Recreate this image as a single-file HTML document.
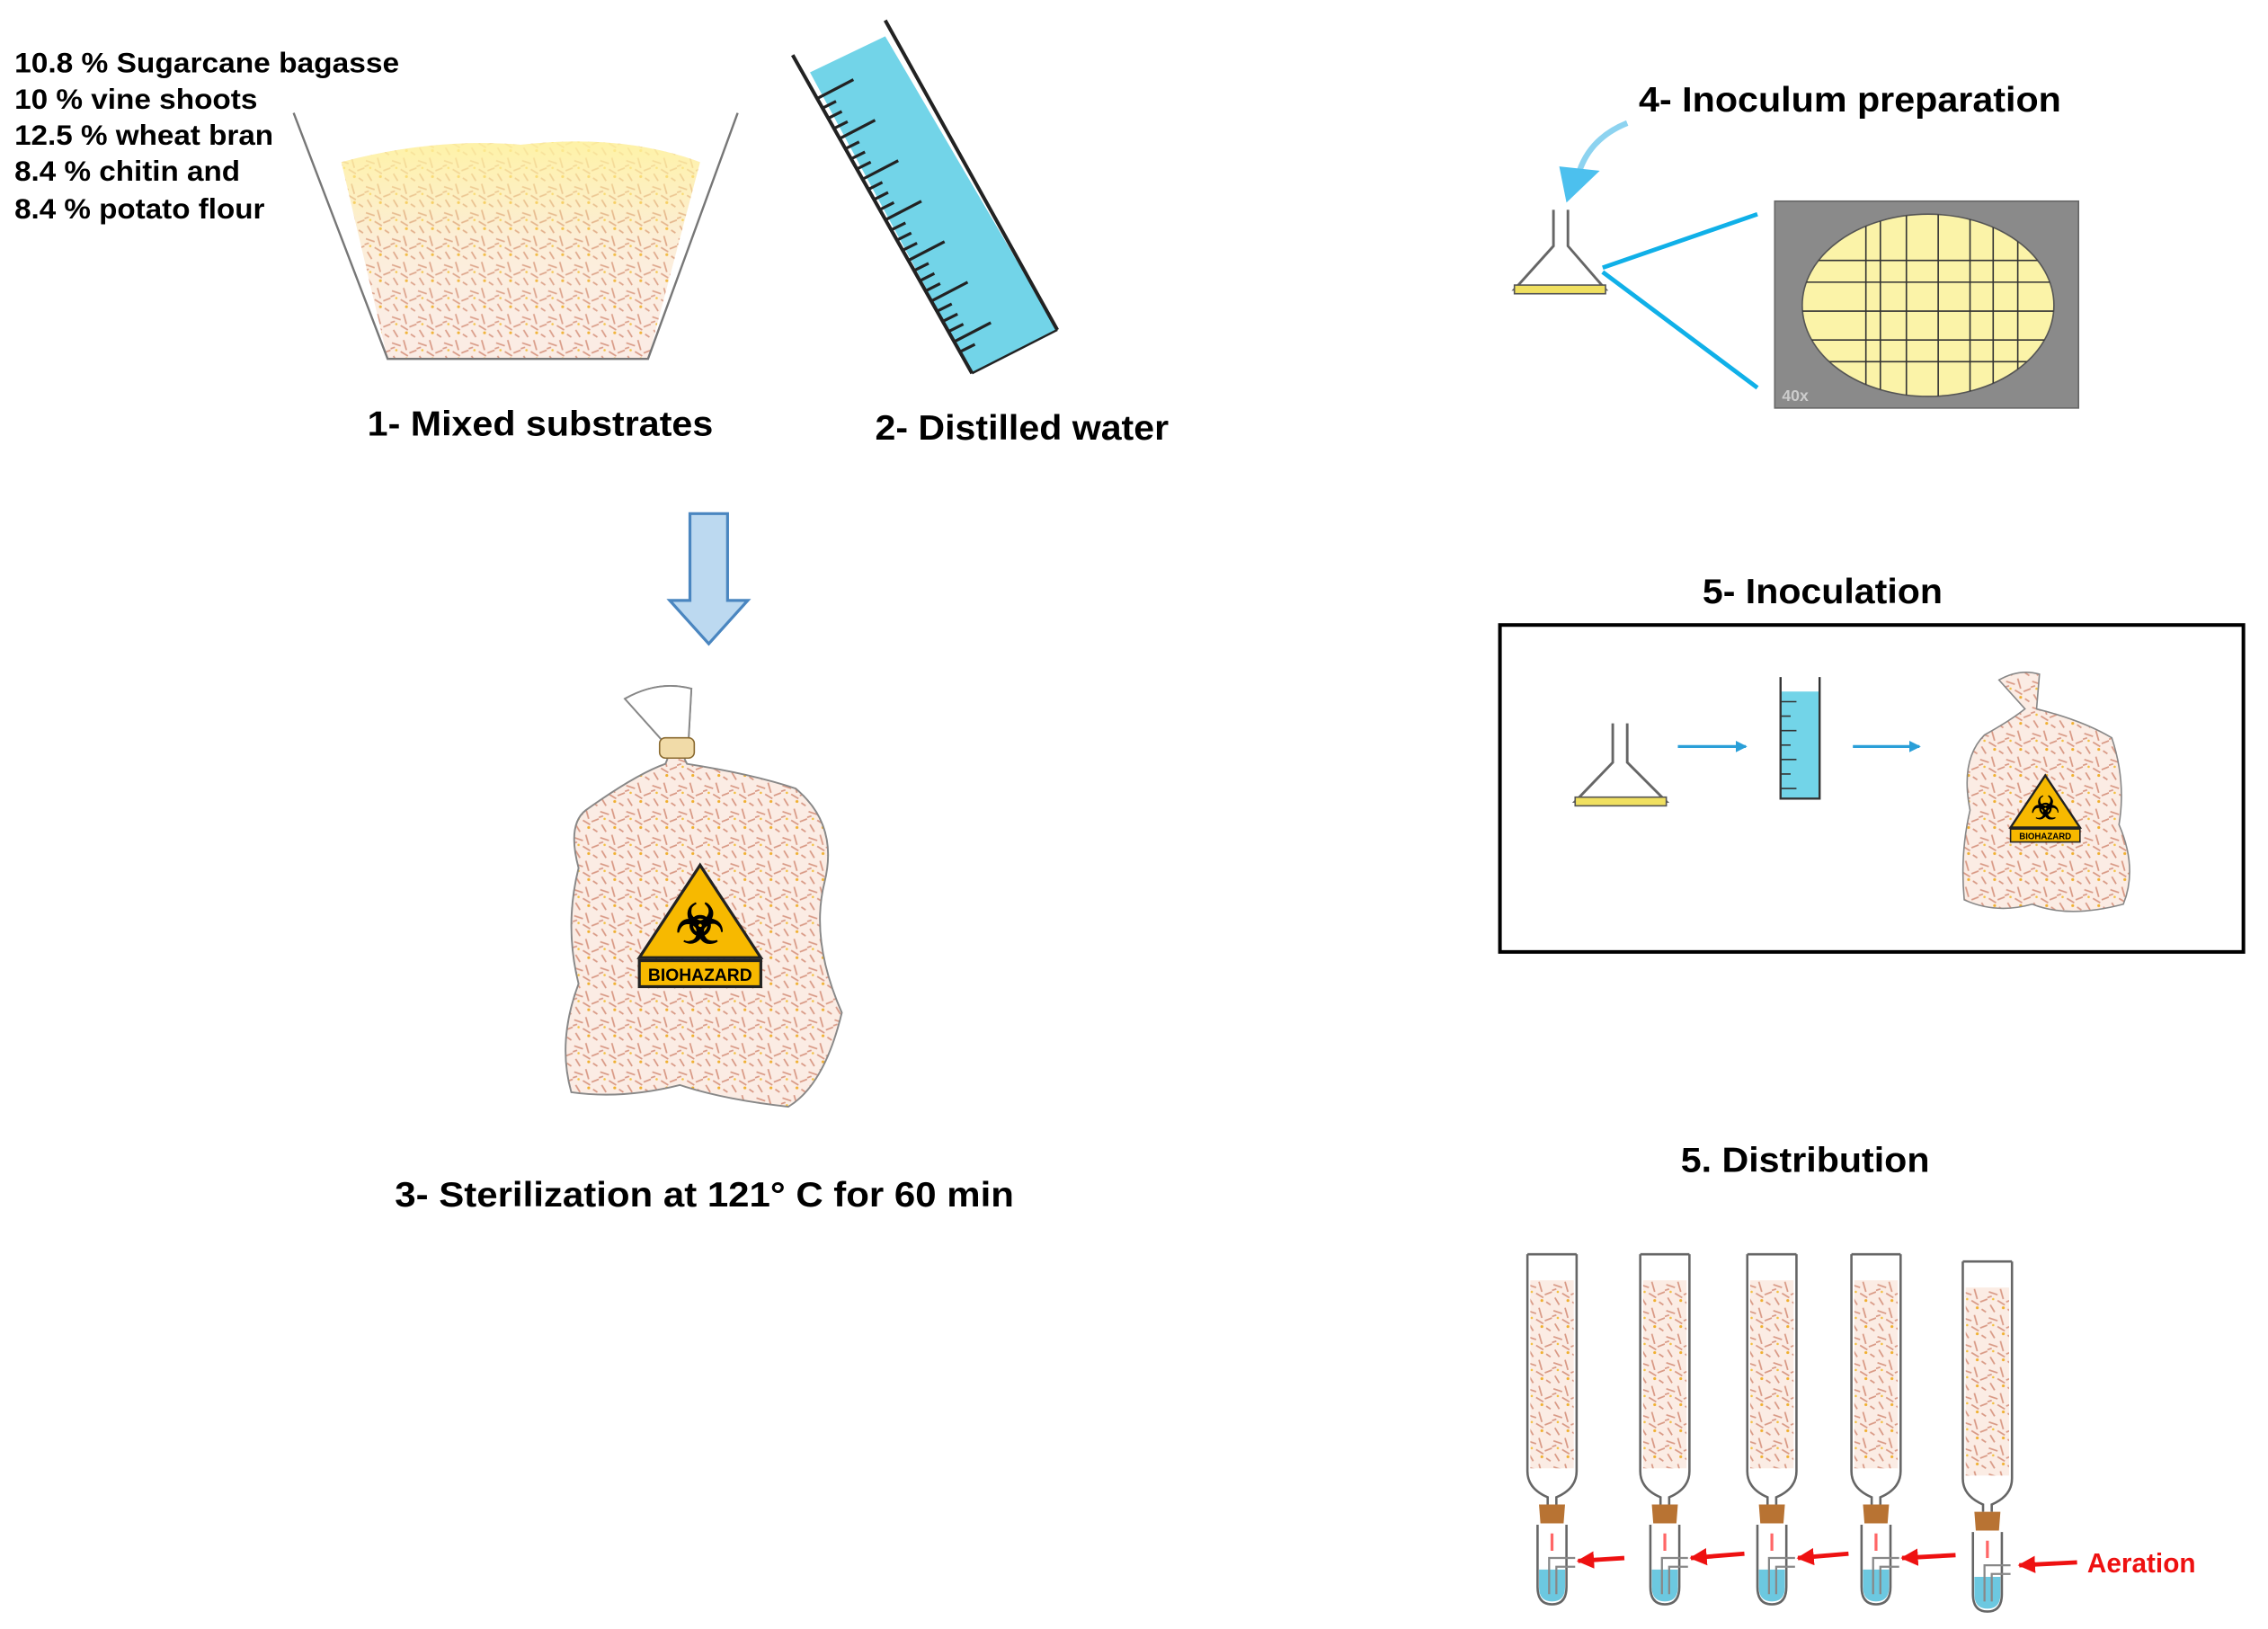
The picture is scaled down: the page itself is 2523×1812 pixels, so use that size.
<!DOCTYPE html>
<html><head><meta charset="utf-8"><style>
html,body{margin:0;padding:0;background:#fff;}
svg{display:block;}
text{font-family:"Liberation Sans",Arial,sans-serif;font-weight:bold;}
</style></head><body>
<svg width="2523" height="1812" viewBox="0 0 1568 1126" xmlns="http://www.w3.org/2000/svg">
<defs>
<pattern id="sub" width="18" height="18" patternUnits="userSpaceOnUse">
<rect width="18" height="18" fill="#fbece4"/>
<path d="M1 3 l6 2 M9 1 l2 7 M13 10 l5 -2 M2 12 l3 5 M7 9 l5 3 M14 15 l3 2 M0 7 l3 -1" stroke="#d99a86" stroke-width="1.1"/>
<circle cx="11" cy="14" r="1" fill="#f0b030"/><circle cx="4" cy="8" r="0.8" fill="#f3c040"/>
</pattern>
<linearGradient id="yl" x1="0" y1="0" x2="0" y2="1"><stop offset="0" stop-color="#fff3a0" stop-opacity="0.9"/><stop offset="0.45" stop-color="#fff3a0" stop-opacity="0.2"/><stop offset="1" stop-color="#fff" stop-opacity="0"/></linearGradient>
<marker id="ab" markerWidth="8" markerHeight="8" refX="7" refY="4" orient="auto" markerUnits="userSpaceOnUse"><path d="M0 0 L8 4 L0 8z" fill="#2a9fd8"/></marker>
<marker id="ar" markerWidth="12" markerHeight="12" refX="11" refY="6" orient="auto" markerUnits="userSpaceOnUse"><path d="M0 0 L12 6 L0 12z" fill="#ee1111"/></marker>
<clipPath id="cp"><ellipse cx="1333" cy="211" rx="87" ry="63"/></clipPath>
<g id="tb">
<rect x="-15" y="18" width="30" height="130" fill="url(#sub)"/>
<path d="M-17 0 L-17 150 Q-17 162 -3 168 L-3 173 M17 0 L17 150 Q17 162 3 168 L3 173 M-17 0 L17 0" fill="none" stroke="#666" stroke-width="1.6"/>
<polygon points="-9,173 9,173 8,186 -8,186" fill="#b87333"/>
<path d="M-10 187 L-10 230 Q-10 242 0 242 Q10 242 10 230 L10 187" fill="none" stroke="#666" stroke-width="1.6"/>
<path d="M-9 218 L9 218 L9 230 Q9 240 0 240 Q-9 240 -9 230 Z" fill="#6cc8e0"/>
<path d="M-2 235 L-2 210 L16 210 M3 235 L3 216 L16 216" fill="none" stroke="#888" stroke-width="1.4"/>
<line x1="0" y1="205" x2="0" y2="193" stroke="#f66" stroke-width="2"/>
</g>
</defs>

<g font-size="19.5" fill="#000">
<text x="10" y="50" textLength="266" lengthAdjust="spacingAndGlyphs">10.8 % Sugarcane bagasse</text>
<text x="10" y="75" textLength="168" lengthAdjust="spacingAndGlyphs">10 % vine shoots</text>
<text x="10" y="100" textLength="179" lengthAdjust="spacingAndGlyphs">12.5 % wheat bran</text>
<text x="10" y="125" textLength="156" lengthAdjust="spacingAndGlyphs">8.4 % chitin and</text>
<text x="10" y="151" textLength="173" lengthAdjust="spacingAndGlyphs">8.4 % potato flour</text>
</g>

<path d="M236 112 Q300 95 360 100 Q430 92 484 112 L448 248 L268 248 Z" fill="url(#sub)"/>
<path d="M236 112 Q300 95 360 100 Q430 92 484 112 L448 248 L268 248 Z" fill="url(#yl)"/>
<path d="M203 78 L268 248 L448 248 L510 78" fill="none" stroke="#777" stroke-width="1.5"/>
<text x="254" y="301" font-size="24" textLength="239" lengthAdjust="spacingAndGlyphs">1- Mixed substrates</text>

<polygon points="560,50 612,25 731,228 672,258" fill="#72d4e8"/>
<line x1="548" y1="38" x2="672" y2="258" stroke="#222" stroke-width="2.5"/>
<line x1="612" y1="14" x2="731" y2="228" stroke="#222" stroke-width="2.5"/>
<line x1="672" y1="258" x2="731" y2="228" stroke="#222" stroke-width="1.5"/>
<g stroke="#222" stroke-width="2">
<line x1="565" y1="68" x2="590" y2="55"/><line x1="568" y1="75" x2="578" y2="70"/><line x1="572" y1="82" x2="582" y2="77"/><line x1="576" y1="89" x2="586" y2="84"/>
<line x1="580" y1="96" x2="605" y2="83"/><line x1="584" y1="103" x2="594" y2="98"/><line x1="588" y1="110" x2="598" y2="105"/><line x1="592" y1="117" x2="602" y2="112"/>
<line x1="596" y1="124" x2="621" y2="111"/><line x1="600" y1="131" x2="610" y2="126"/><line x1="604" y1="138" x2="614" y2="133"/><line x1="608" y1="145" x2="618" y2="140"/>
<line x1="612" y1="152" x2="637" y2="139"/><line x1="616" y1="159" x2="626" y2="154"/><line x1="620" y1="166" x2="630" y2="161"/><line x1="624" y1="173" x2="634" y2="168"/>
<line x1="628" y1="180" x2="653" y2="167"/><line x1="632" y1="187" x2="642" y2="182"/><line x1="636" y1="194" x2="646" y2="189"/><line x1="640" y1="201" x2="650" y2="196"/>
<line x1="644" y1="208" x2="669" y2="195"/><line x1="648" y1="215" x2="658" y2="210"/><line x1="652" y1="222" x2="662" y2="217"/><line x1="656" y1="229" x2="666" y2="224"/>
<line x1="660" y1="236" x2="685" y2="223"/><line x1="664" y1="243" x2="674" y2="238"/>
</g>
<text x="605" y="304" font-size="24" textLength="203" lengthAdjust="spacingAndGlyphs">2- Distilled water</text>

<path d="M477 355 L503 355 L503 415 L517 415 L490 445 L463 415 L477 415 Z" fill="#bcd9f0" stroke="#4a86c0" stroke-width="2"/>

<path d="M432 483 Q455 470 478 476 L476 512 Q470 520 475 528 Q520 535 550 545 Q580 570 570 610 Q560 650 582 700 Q570 750 545 765 Q500 760 470 750 Q430 760 395 755 Q385 720 400 680 Q390 640 400 600 Q392 570 405 560 Q440 535 460 528 Q465 518 458 512 Z" fill="url(#sub)" stroke="#888" stroke-width="1.2"/>
<path d="M432 483 Q455 470 478 476 L476 512 L458 512 Z" fill="#fff" stroke="#888" stroke-width="1.2"/>
<rect x="456" y="510" width="24" height="14" rx="4" fill="#f1dba8" stroke="#8a6a30"/>
<polygon points="484,598 526,662 442,662" fill="#f7b900" stroke="#222" stroke-width="2"/>
<text x="484" y="652" font-size="38" text-anchor="middle" font-weight="normal" font-family="DejaVu Sans">☣</text>
<rect x="442" y="664" width="84" height="18" fill="#f7b900" stroke="#222" stroke-width="2"/>
<text x="484" y="678" font-size="12" text-anchor="middle">BIOHAZARD</text>
<text x="273" y="834" font-size="24" textLength="428" lengthAdjust="spacingAndGlyphs">3- Sterilization at 121°   C for 60 min</text>

<text x="1133" y="77" font-size="24" textLength="292" lengthAdjust="spacingAndGlyphs">4- Inoculum preparation</text>
<path d="M1125 85 Q1100 95 1092 118" fill="none" stroke="#8dd3f0" stroke-width="4"/>
<polygon points="1078,115 1106,118 1083,140" fill="#4cc0ee"/>
<path d="M1074 145 L1074 170 L1047 200 L1110 200 L1084 170 L1084 145" fill="none" stroke="#666" stroke-width="1.8"/>
<rect x="1047" y="197" width="63" height="6" fill="#f0e060" stroke="#555" stroke-width="1"/>
<line x1="1108" y1="185" x2="1215" y2="148" stroke="#10b0e8" stroke-width="3"/>
<line x1="1108" y1="188" x2="1215" y2="268" stroke="#10b0e8" stroke-width="3"/>
<rect x="1227" y="139" width="210" height="143" fill="#8a8a8a" stroke="#666"/>
<ellipse cx="1333" cy="211" rx="87" ry="63" fill="#fbf3a8" stroke="#555"/>
<g stroke="#333" stroke-width="1" clip-path="url(#cp)">
<line x1="1290" y1="148" x2="1290" y2="275"/><line x1="1300" y1="148" x2="1300" y2="275"/><line x1="1318" y1="148" x2="1318" y2="275"/><line x1="1340" y1="148" x2="1340" y2="275"/><line x1="1362" y1="148" x2="1362" y2="275"/><line x1="1378" y1="148" x2="1378" y2="275"/><line x1="1395" y1="148" x2="1395" y2="275"/>
<line x1="1246" y1="180" x2="1420" y2="180"/><line x1="1246" y1="195" x2="1420" y2="195"/><line x1="1246" y1="215" x2="1420" y2="215"/><line x1="1246" y1="235" x2="1420" y2="235"/><line x1="1246" y1="250" x2="1420" y2="250"/>
</g>
<text x="1232" y="277" font-size="11" fill="#ccc" font-weight="normal">40x</text>

<text x="1177" y="417" font-size="24" textLength="166" lengthAdjust="spacingAndGlyphs">5- Inoculation</text>
<rect x="1037" y="432" width="514" height="226" fill="none" stroke="#000" stroke-width="2.5"/>
<path d="M1115 500 L1115 527 L1089 554 L1152 554 L1125 527 L1125 500" fill="none" stroke="#666" stroke-width="1.8"/>
<rect x="1089" y="551" width="63" height="6" fill="#f0e060" stroke="#555" stroke-width="1"/>
<line x1="1160" y1="516" x2="1207" y2="516" stroke="#2a9fd8" stroke-width="2" marker-end="url(#ab)"/>
<rect x="1231" y="478" width="27" height="74" fill="#72d4e8"/>
<path d="M1231 468 L1231 552 L1258 552 L1258 468" fill="none" stroke="#333" stroke-width="1.5"/>
<g stroke="#333" stroke-width="1"><line x1="1231" y1="485" x2="1242" y2="485"/><line x1="1231" y1="495" x2="1238" y2="495"/><line x1="1231" y1="505" x2="1242" y2="505"/><line x1="1231" y1="515" x2="1238" y2="515"/><line x1="1231" y1="525" x2="1242" y2="525"/><line x1="1231" y1="535" x2="1238" y2="535"/><line x1="1231" y1="545" x2="1242" y2="545"/></g>
<line x1="1281" y1="516" x2="1327" y2="516" stroke="#2a9fd8" stroke-width="2" marker-end="url(#ab)"/>
<path d="M1382 470 Q1396 462 1410 466 L1408 490 Q1440 498 1460 510 Q1470 540 1465 570 Q1478 600 1468 625 Q1430 635 1405 625 Q1380 632 1358 622 Q1355 590 1362 560 Q1355 525 1372 508 Q1390 498 1400 490 Z" fill="url(#sub)" stroke="#888"/>
<polygon points="1414,536 1438,572 1390,572" fill="#f7b900" stroke="#222" stroke-width="1.5"/>
<text x="1414" y="566" font-size="22" text-anchor="middle" font-weight="normal" font-family="DejaVu Sans">☣</text>
<rect x="1390" y="573" width="48" height="9" fill="#f7b900" stroke="#222"/>
<text x="1414" y="580" font-size="6" text-anchor="middle">BIOHAZARD</text>

<text x="1162" y="810" font-size="24" textLength="172" lengthAdjust="spacingAndGlyphs">5. Distribution</text>
<use href="#tb" transform="translate(1073,867)"/>
<use href="#tb" transform="translate(1151,867)"/>
<use href="#tb" transform="translate(1225,867)"/>
<use href="#tb" transform="translate(1297,867)"/>
<use href="#tb" transform="translate(1374,872)"/>
<g stroke="#ee1111" stroke-width="3">
<line x1="1123" y1="1077" x2="1091" y2="1079" marker-end="url(#ar)"/>
<line x1="1206" y1="1074" x2="1169" y2="1077" marker-end="url(#ar)"/>
<line x1="1278" y1="1074" x2="1243" y2="1077" marker-end="url(#ar)"/>
<line x1="1352" y1="1075" x2="1315" y2="1077" marker-end="url(#ar)"/>
<line x1="1436" y1="1080" x2="1396" y2="1082" marker-end="url(#ar)"/>
</g>
<text x="1443" y="1087" font-size="19" fill="#ee1111" textLength="75" lengthAdjust="spacingAndGlyphs">Aeration</text>
</svg>
</body></html>
